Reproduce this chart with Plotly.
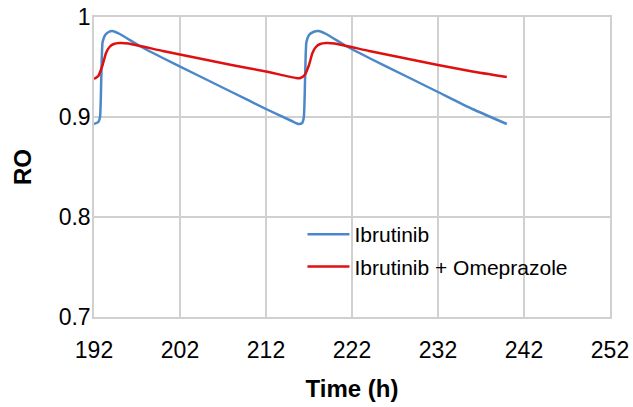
import plotly.graph_objects as go

# Data
t_ibr = [192, 192.5, 192.7, 192.85, 193.0, 193.3, 193.7, 194.1, 195, 197.3, 200, 204, 208, 212, 215, 215.8,
         216.2, 216.4, 216.55, 216.7, 217.0, 217.5, 218.1, 219, 221.3, 224, 228, 232, 236, 240]
ro_ibr = [0.893, 0.895, 0.900, 0.940, 0.975, 0.982, 0.985, 0.986, 0.983, 0.971, 0.959, 0.942, 0.925, 0.908, 0.896, 0.893,
          0.894, 0.900, 0.940, 0.975, 0.982, 0.985, 0.986, 0.983, 0.971, 0.959, 0.942, 0.925, 0.908, 0.893]

t_ome = [192, 192.5, 193.0, 193.4, 193.8, 194.3, 195, 196, 200, 204, 208, 212, 215.5, 216.0,
         216.5, 217.0, 217.4, 217.8, 218.3, 219, 220, 224, 228, 232, 236, 240]
ro_ome = [0.938, 0.941, 0.952, 0.964, 0.970, 0.973, 0.974, 0.9735, 0.966, 0.959, 0.952, 0.9455, 0.939, 0.939,
          0.942, 0.952, 0.964, 0.970, 0.973, 0.974, 0.9735, 0.966, 0.959, 0.952, 0.9455, 0.940]

x_ticks = [192, 202, 212, 222, 232, 242, 252]
y_ticks = [0.7, 0.8, 0.9, 1.0]
y_ticktext = ["0.7", "0.8", "0.9", "1"]

fig = go.Figure()
fig.add_trace(go.Scatter(x=t_ibr, y=ro_ibr, mode="lines", name="Ibrutinib", legendgroup="a",
                         line=dict(color="#4a88c9", width=2.5, shape="spline", smoothing=0.5)))
fig.add_trace(go.Scatter(x=t_ome, y=ro_ome, mode="lines", name="Ibrutinib + Omeprazole", legendgroup="b",
                         line=dict(color="#e01010", width=2.5, shape="spline", smoothing=0.5)))

fig.update_layout(
    width=633, height=407,
    margin=dict(l=94, r=23, t=17, b=90, autoexpand=False),
    paper_bgcolor="white", plot_bgcolor="white",
    font=dict(family="Liberation Sans, Arial, sans-serif", color="black", size=22),
    showlegend=True,
    legend=dict(x=0.404, y=0.343, xanchor="left", yanchor="top", bgcolor="rgba(0,0,0,0)",
                font=dict(size=21), traceorder="grouped", tracegroupgap=2, itemwidth=42),
)
fig.update_xaxes(range=[192, 252], tickvals=x_ticks, showgrid=True, gridcolor="#d0d0d0", gridwidth=1.5,
                 showline=True, linecolor="#d0d0d0", linewidth=1.5, mirror=True, zeroline=False,
                 ticks="outside", ticklen=12, tickcolor="rgba(0,0,0,0)", tickfont=dict(size=23),
                 automargin=False, ticklabeloverflow="allow",
                 title=dict(text="<b>Time (h)</b>", font=dict(size=24), standoff=18))
fig.update_yaxes(range=[0.7, 1.0], tickvals=y_ticks, ticktext=y_ticktext, showgrid=True, gridcolor="#d0d0d0",
                 gridwidth=1.5, showline=True, linecolor="#d0d0d0", linewidth=1.5, mirror=True, zeroline=False,
                 ticks="", ticklabelstandoff=-3, tickfont=dict(size=23),
                 automargin=False, ticklabeloverflow="allow",
                 title=dict(text="<b>RO</b>", font=dict(size=24), standoff=20))

fig.write_html("out.html", config={"displayModeBar": False},
               post_script="document.body.style.margin='0';document.body.style.overflow='hidden';")
